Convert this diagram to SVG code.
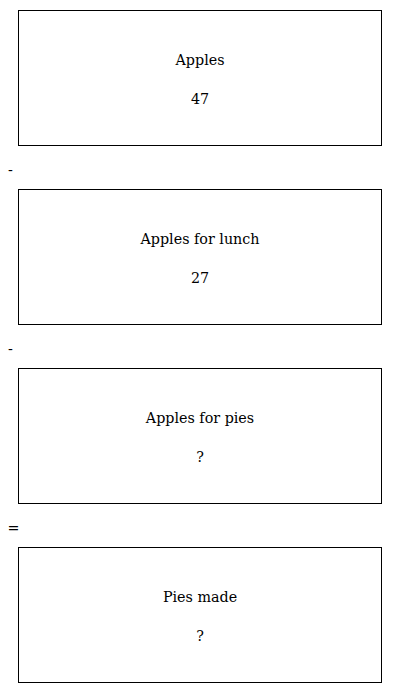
<svg xmlns="http://www.w3.org/2000/svg" width="400" height="693" viewBox="0 0 400 693">
<style>
.box{fill:#fff;stroke:#000;stroke-width:1}
text{font-family:"DejaVu Serif",serif;font-size:14.3px;fill:#000}
.c{text-anchor:middle}
</style>
<rect width="400" height="693" fill="#fff"/>
<g id="node1"><rect class="box" x="18.5" y="10.5" width="363" height="135"/><text class="c" x="200" y="65">Apples</text><text class="c" x="200" y="104">47</text></g>
<g id="op1"><text x="8" y="175">-</text></g>
<g id="node2"><rect class="box" x="18.5" y="189.5" width="363" height="135"/><text class="c" x="200" y="244">Apples for lunch</text><text class="c" x="200" y="283">27</text></g>
<g id="op2"><text x="8" y="354">-</text></g>
<g id="node3"><rect class="box" x="18.5" y="368.5" width="363" height="135"/><text class="c" x="200" y="423">Apples for pies</text><text class="c" x="200" y="462">?</text></g>
<g id="op3"><text x="7.5" y="533">=</text></g>
<g id="node4"><rect class="box" x="18.5" y="547.5" width="363" height="135"/><text class="c" x="200" y="602">Pies made</text><text class="c" x="200" y="641">?</text></g>
<g id="connectors"></g>
</svg>
